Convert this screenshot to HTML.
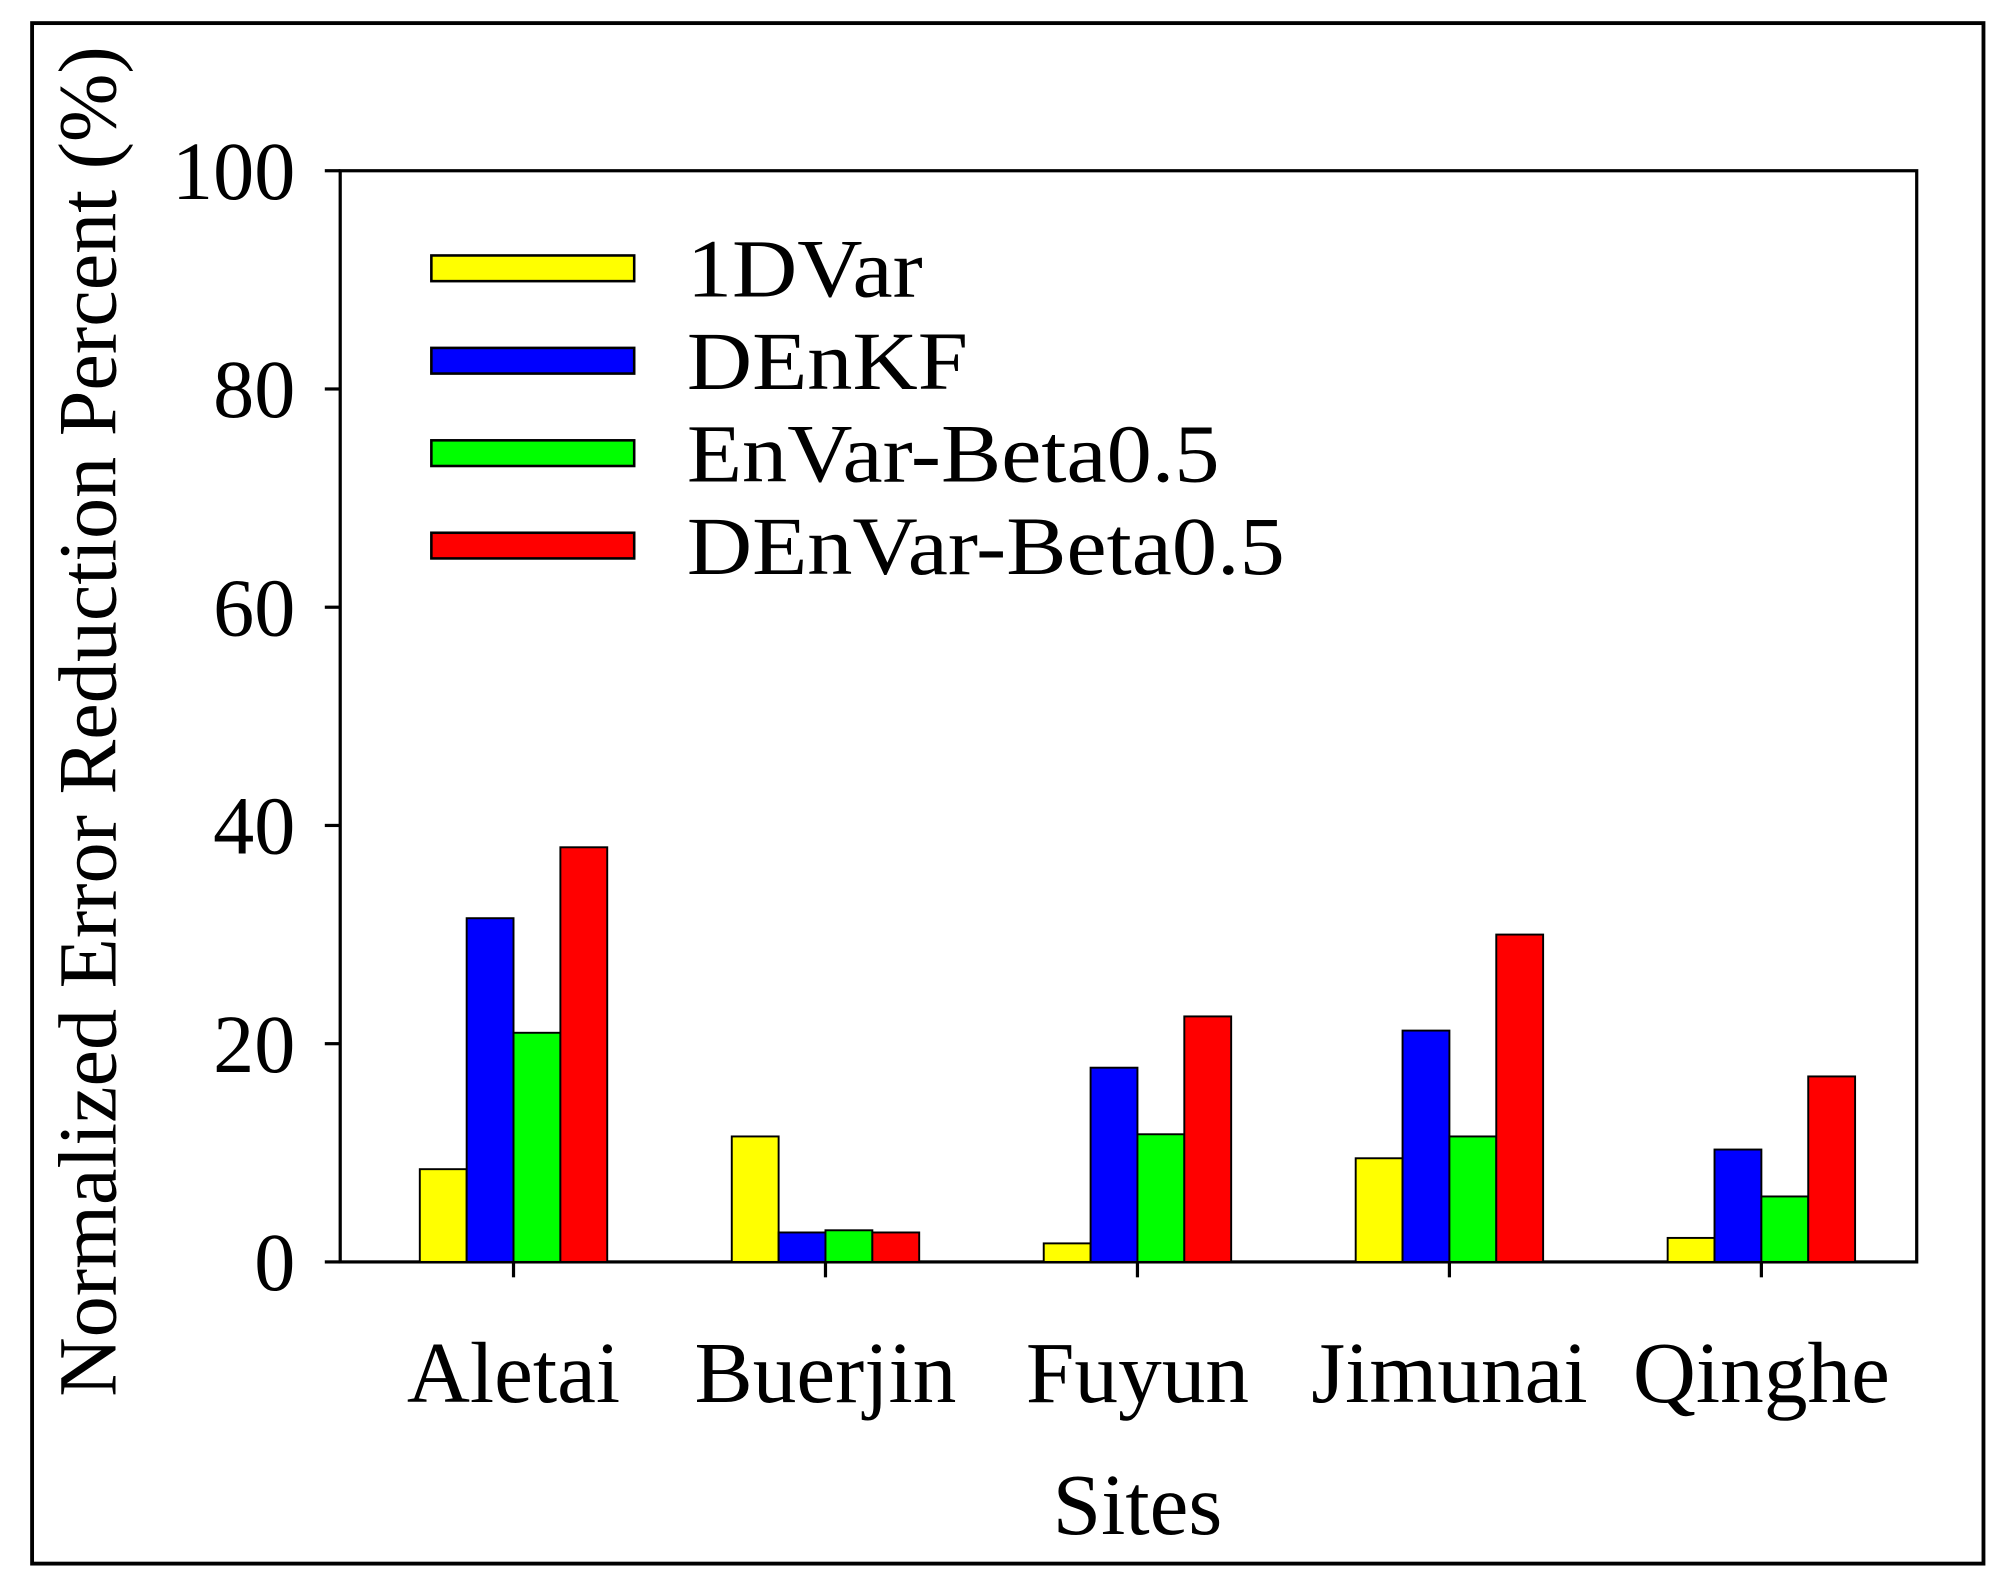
<!DOCTYPE html>
<html><head><meta charset="utf-8"><style>html,body{margin:0;padding:0;background:#fff}svg{display:block}</style></head>
<body>
<svg id="chart" width="2013" height="1588" viewBox="0 0 1568 1237" preserveAspectRatio="none" xmlns="http://www.w3.org/2000/svg" font-family="'Liberation Serif', serif">
<rect x="0" y="0" width="1568" height="1237" fill="#fff"/>
<rect x="25" y="18" width="1520" height="1200" fill="none" stroke="#000" stroke-width="3"/>
<g id="plot"></g>
</svg>
<script>
const categories = ["Aletai","Buerjin","Fuyun","Jimunai","Qinghe"];
const seriesNames = ["1DVar","DEnKF","EnVar-Beta0.5","DEnVar-Beta0.5"];
const colors = ["#ffff00","#0000ff","#00ff00","#ff0000"];
const v1DVar = [8.5, 11.5, 1.7, 9.5, 2.2];
const vDEnKF = [31.5, 2.7, 17.8, 21.2, 10.3];
const vEnVar = [21, 2.9, 11.7, 11.5, 6];
const vDEnVar = [38, 2.7, 22.5, 30, 17];
const yTicks = [0,20,40,60,80,100];

const series = [v1DVar, vDEnKF, vEnVar, vDEnVar];
const NS = "http://www.w3.org/2000/svg";
const g = document.getElementById("plot");
const L=265, R=1493, T=133, B=983;
const y = v => B - (v/100)*(B-T);
const xc = i => 400 + i*243;
const bw = 36.5;
function mk(tag, attrs, parent){const e=document.createElementNS(NS,tag);for(const k in attrs)e.setAttribute(k,attrs[k]);(parent||g).appendChild(e);return e;}

const frame = mk("rect",{x:L,y:T,width:R-L,height:B-T,fill:"none",stroke:"#000","stroke-width":2.5});



yTicks.forEach(t=>{
  const tk = mk("line",{x1:L-12,x2:L,y1:y(t),y2:y(t),stroke:"#000","stroke-width":2.5});
  
  
  const lb = mk("text",{x:230,y:y(t)+22,"text-anchor":"end","font-size":64});
  lb.textContent = t;
  
  
});

categories.forEach((c,i)=>{
  series.forEach((s,j)=>{
    const x0 = xc(i) - 2*bw + j*bw;
    const r = mk("rect",{x:x0,y:y(s[i]),width:bw,height:B-y(s[i]),fill:colors[j],stroke:"#000","stroke-width":1.5});
    
    
  });
  const tk = mk("line",{x1:xc(i),x2:xc(i),y1:B,y2:B+12,stroke:"#000","stroke-width":2.5});
  
  
  const lb = mk("text",{x:xc(i),y:1092,"text-anchor":"middle","font-size":68});
  lb.textContent = c;
  
  
});

seriesNames.forEach((n,j)=>{
  const cy = 209 + j*72;
  const sw = mk("rect",{x:336,y:cy-10,width:158,height:20,fill:colors[j],stroke:"#000","stroke-width":2});
  
  
  const t = mk("text",{x:0,y:0,"font-size":64,transform:"translate(535," + (cy+22) + ") scale(1.1,1)"});
  t.textContent = n;
  
  
});

const xt = mk("text",{x:886,y:1195,"text-anchor":"middle","font-size":68});
xt.textContent = "Sites";


const yt = mk("text",{x:0,y:0,"text-anchor":"middle","font-size":64,transform:"translate(90,562) rotate(-90)"});
yt.textContent = "Normalized Error Reduction Percent (%)";


</script>
</body></html>
